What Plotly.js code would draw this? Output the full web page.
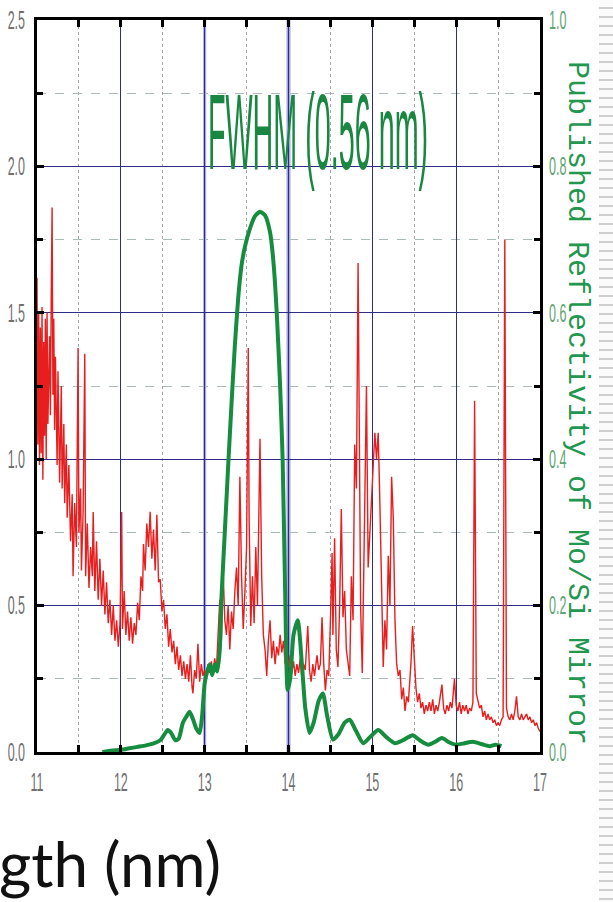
<!DOCTYPE html>
<html>
<head>
<meta charset="utf-8">
<script src="https://cdn.plot.ly/plotly-3.0.1.min.js"></script>
<style>
  html, body { margin: 0; padding: 0; background: #fff; }
  #wrap { position: relative; width: 613px; height: 902px; overflow: hidden; }
  #stripes { position: absolute; right: 0; top: 0; width: 14px; height: 902px;
    background: repeating-linear-gradient(to bottom, #fbfbfb 0px, #fbfbfb 7px, #cfcfcf 7px, #cfcfcf 9px); }
  #chart { position: absolute; left: 0; top: 0; width: 613px; height: 902px; }
</style>
</head>
<body>
<div id="wrap"><div id="stripes"></div><div id="chart"></div></div>
<script>
// Measured spectrum (left axis)
const redX = [11.00,11.01,11.02,11.03,11.04,11.05,11.06,11.07,11.08,11.09,11.10,11.11,11.12,11.13,11.15,11.16,11.17,11.18,11.19,11.20,11.21,11.22,11.24,11.25,11.27,11.29,11.30,11.32,11.33,11.35,11.36,11.38,11.40,11.42,11.43,11.45,11.47,11.49,11.50,11.52,11.53,11.55,11.57,11.58,11.60,11.62,11.64,11.66,11.67,11.69,11.71,11.73,11.75,11.77,11.79,11.81,11.83,11.85,11.87,11.89,11.91,11.93,11.95,11.97,11.99,12.01,12.02,12.04,12.06,12.08,12.10,12.12,12.14,12.16,12.18,12.20,12.22,12.24,12.26,12.27,12.29,12.31,12.33,12.35,12.37,12.39,12.41,12.43,12.45,12.47,12.49,12.51,12.53,12.55,12.57,12.59,12.61,12.63,12.65,12.67,12.69,12.71,12.73,12.75,12.77,12.79,12.81,12.83,12.85,12.86,12.88,12.90,12.92,12.94,12.96,12.98,13.00,13.02,13.04,13.06,13.08,13.10,13.12,13.14,13.16,13.18,13.20,13.22,13.24,13.26,13.28,13.30,13.32,13.34,13.36,13.38,13.40,13.42,13.44,13.46,13.48,13.50,13.52,13.53,13.55,13.57,13.59,13.61,13.63,13.66,13.68,13.70,13.72,13.74,13.76,13.78,13.80,13.82,13.84,13.86,13.88,13.90,13.92,13.94,13.96,13.98,14.00,14.02,14.04,14.06,14.08,14.10,14.12,14.14,14.16,14.18,14.20,14.23,14.25,14.27,14.29,14.31,14.34,14.36,14.38,14.40,14.42,14.44,14.46,14.48,14.50,14.52,14.53,14.55,14.57,14.59,14.61,14.63,14.65,14.67,14.69,14.71,14.73,14.75,14.77,14.79,14.81,14.83,14.85,14.86,14.88,14.90,14.93,14.95,14.97,14.99,15.01,15.03,15.05,15.07,15.09,15.11,15.13,15.15,15.17,15.19,15.21,15.23,15.25,15.27,15.29,15.31,15.33,15.35,15.37,15.39,15.41,15.43,15.46,15.48,15.50,15.52,15.54,15.56,15.58,15.60,15.62,15.64,15.66,15.68,15.70,15.72,15.74,15.76,15.78,15.80,15.83,15.85,15.87,15.89,15.91,15.93,15.95,15.98,16.00,16.02,16.04,16.06,16.08,16.10,16.12,16.14,16.16,16.18,16.20,16.22,16.24,16.26,16.28,16.30,16.32,16.34,16.36,16.38,16.40,16.42,16.44,16.46,16.48,16.50,16.52,16.54,16.56,16.58,16.60,16.62,16.64,16.66,16.68,16.70,16.72,16.74,16.76,16.78,16.80,16.82,16.84,16.86,16.88,16.90,16.92,16.94,16.96,16.98,17.00];
const redY = [1.62,1.05,1.50,0.98,1.45,1.02,1.52,0.93,1.40,1.08,1.48,1.00,1.50,1.12,1.42,1.15,1.55,1.86,1.22,1.48,1.10,1.35,0.98,1.30,0.92,1.25,0.90,1.12,0.85,1.05,0.80,0.98,0.72,0.88,0.60,0.85,0.70,1.38,0.75,0.90,0.62,0.82,1.36,0.60,0.78,0.56,0.70,0.60,0.82,0.55,0.72,0.52,0.66,0.50,0.62,0.47,0.58,0.44,0.52,0.40,0.50,0.38,0.45,0.36,0.44,0.82,0.42,0.55,0.40,0.48,0.38,0.46,0.37,0.44,0.40,0.51,0.45,0.60,0.55,0.71,0.62,0.78,0.70,0.82,0.66,0.76,0.62,0.81,0.58,0.59,0.48,0.52,0.42,0.47,0.36,0.42,0.34,0.38,0.30,0.36,0.28,0.33,0.26,0.31,0.25,0.30,0.24,0.33,0.22,0.20,0.28,0.25,0.37,0.24,0.30,0.26,0.28,0.25,0.30,0.27,0.31,0.27,0.32,0.28,0.40,0.52,0.38,0.62,0.45,0.40,0.50,0.35,0.48,0.42,0.55,0.63,0.50,0.94,0.60,0.42,0.55,0.70,1.38,0.80,0.43,0.60,0.44,0.70,0.50,1.07,0.60,0.40,0.35,0.26,0.38,0.45,0.32,0.38,0.30,0.36,0.33,0.40,0.34,0.38,0.30,0.35,0.29,0.33,0.27,0.31,0.26,0.30,0.27,0.32,0.25,0.30,0.28,0.43,0.28,0.24,0.30,0.26,0.33,0.28,0.30,0.46,0.30,0.21,0.28,0.26,0.45,0.68,0.40,0.73,0.35,0.29,0.50,0.83,0.46,0.55,0.35,0.30,0.26,0.60,0.45,1.05,0.90,1.67,0.80,0.50,0.27,0.70,1.25,0.63,0.75,0.90,1.02,1.09,1.00,1.09,0.85,0.55,0.29,0.45,0.35,0.67,0.50,0.94,0.80,0.45,0.30,0.26,0.28,0.18,0.22,0.14,0.19,0.17,0.30,0.43,0.33,0.22,0.17,0.20,0.15,0.17,0.13,0.16,0.14,0.17,0.14,0.18,0.13,0.16,0.14,0.17,0.23,0.15,0.13,0.16,0.14,0.17,0.15,0.25,0.16,0.14,0.17,0.13,0.16,0.14,0.16,0.13,0.15,0.14,0.17,1.20,0.20,0.17,0.15,0.16,0.12,0.14,0.11,0.13,0.11,0.12,0.10,0.11,0.09,0.10,0.09,0.11,0.12,1.75,0.15,0.12,0.11,0.13,0.11,0.14,0.19,0.12,0.11,0.13,0.11,0.12,0.13,0.11,0.12,0.10,0.11,0.09,0.10,0.08,0.07];

// Published reflectivity of Mo/Si mirror (right axis)
const greenX = [11.78,11.90,12.00,12.10,12.20,12.30,12.40,12.47,12.52,12.56,12.60,12.65,12.69,12.74,12.78,12.82,12.86,12.90,12.94,12.97,13.00,13.03,13.06,13.09,13.12,13.15,13.18,13.20,13.24,13.28,13.32,13.36,13.40,13.44,13.48,13.54,13.60,13.66,13.72,13.78,13.82,13.86,13.90,13.93,13.96,13.99,14.02,14.06,14.11,14.16,14.20,14.25,14.30,14.36,14.41,14.46,14.53,14.60,14.67,14.73,14.80,14.89,14.97,15.07,15.17,15.27,15.38,15.48,15.58,15.67,15.75,15.83,15.92,16.00,16.10,16.20,16.30,16.40,16.47,16.54];
const greenY = [0.000,0.002,0.003,0.005,0.007,0.009,0.012,0.016,0.024,0.030,0.026,0.016,0.018,0.040,0.048,0.055,0.045,0.032,0.026,0.050,0.094,0.110,0.120,0.105,0.120,0.110,0.140,0.210,0.300,0.390,0.475,0.555,0.620,0.665,0.690,0.715,0.732,0.738,0.733,0.710,0.670,0.600,0.500,0.400,0.220,0.085,0.100,0.160,0.180,0.120,0.060,0.026,0.040,0.070,0.080,0.050,0.017,0.025,0.040,0.044,0.030,0.012,0.020,0.030,0.020,0.012,0.017,0.023,0.015,0.010,0.014,0.019,0.013,0.010,0.012,0.014,0.011,0.008,0.010,0.008];

const xTickVals = [11,12,13,14,15,16,17];
const leftTickVals = [0,0.5,1.0,1.5,2.0,2.5];
const rightTickVals = [0,0.2,0.4,0.6,0.8,1.0];

const labelFont = {family: '"Liberation Sans", Arial, sans-serif', size: 25, color: '#707070'};

const traces = [
  {x: redX, y: redY, type: 'scatter', mode: 'lines', yaxis: 'y',
   line: {color: 'rgb(232,30,30)', width: 1.4}, hoverinfo: 'skip'},
  {x: greenX, y: greenY, type: 'scatter', mode: 'lines', yaxis: 'y2',
   line: {color: 'rgb(22,140,62)', width: 4, shape: 'spline', smoothing: 0.6}, hoverinfo: 'skip'}
];

const layout = {
  width: 613, height: 902,
  margin: {l: 37, r: 73, t: 20, b: 150, pad: 0},
  paper_bgcolor: 'rgba(0,0,0,0)',
  plot_bgcolor: '#ffffff',
  showlegend: false,
  xaxis: {
    range: [11, 17], tickvals: xTickVals, ticktext: xTickVals.map(String),
    showline: true, linecolor: '#000', linewidth: 3, mirror: 'allticks',
    ticks: 'inside', ticklen: 7, tickwidth: 3, tickcolor: '#000',
    showgrid: true, gridcolor: 'rgb(45,45,135)', gridwidth: 1, zeroline: false,
    tickfont: labelFont, ticklabelstandoff: 6,
    minor: {dtick: 0.5, tick0: 11, ticks: 'inside', ticklen: 6, tickwidth: 3, tickcolor: '#000',
            showgrid: true, gridcolor: 'rgb(165,165,165)', griddash: 'dot', gridwidth: 1}
  },
  yaxis: {
    range: [0, 2.5], tickvals: leftTickVals, tickformat: '.1f',
    showline: true, linecolor: '#000', linewidth: 3, mirror: 'allticks',
    ticks: 'inside', ticklen: 7, tickwidth: 3, tickcolor: '#000',
    showgrid: true, gridcolor: 'rgb(45,45,135)', gridwidth: 1, zeroline: false,
    tickfont: labelFont, ticklabelstandoff: 4,
    minor: {dtick: 0.25, tick0: 0, ticks: 'inside', ticklen: 6, tickwidth: 3, tickcolor: '#000',
            showgrid: true, gridcolor: 'rgb(170,185,185)', griddash: 'dash', gridwidth: 1}
  },
  yaxis2: {
    overlaying: 'y', side: 'right', range: [0, 1], tickvals: rightTickVals, tickformat: '.1f',
    showgrid: false, zeroline: false, showline: false, ticks: '',
    tickfont: Object.assign({}, labelFont, {color: 'rgb(95,165,115)'}), ticklabelstandoff: 8
  },
  shapes: [
    {type: 'line', xref: 'x', yref: 'paper', x0: 13, x1: 13, y0: 0, y1: 1, layer: 'between',
     line: {color: 'rgba(160,160,220,0.95)', width: 3}},
    {type: 'line', xref: 'x', yref: 'paper', x0: 14, x1: 14, y0: 0, y1: 1, layer: 'between',
     line: {color: 'rgba(160,160,220,0.95)', width: 4}}
  ],
  annotations: [
    {text: 'FWHM (0.56 nm)', xref: 'x', yref: 'y', x: 14.35, y: 2.12, showarrow: false,
     xanchor: 'center', yanchor: 'middle',
     font: {family: '"Liberation Sans", Arial, sans-serif', size: 108, color: 'rgb(25,135,65)'}},
    {text: 'Published Reflectivity of Mo/Si Mirror', xref: 'paper', yref: 'paper',
     x: 1.0736, y: 0.4768, textangle: 90, showarrow: false, xanchor: 'center', yanchor: 'middle',
     font: {family: '"Liberation Mono", "DejaVu Sans Mono", monospace', size: 30, color: 'rgb(35,150,80)'}},
    {text: 'gth (nm)', xref: 'paper', yref: 'paper', x: -0.08, y: -0.205, showarrow: false,
     xanchor: 'left', yanchor: 'bottom',
     font: {family: 'Lato, "Open Sans", sans-serif', size: 62, color: '#111'}}
  ]
};

function squeeze(t, s, mode) {
  const bb = t.getBBox();
  const cx = mode === 'right' ? bb.x + bb.width : (mode === 'left' ? bb.x : bb.x + bb.width / 2);
  const prev = t.getAttribute('transform') || '';
  t.setAttribute('transform', prev + ' translate(' + cx + ',0) scale(' + s + ',1) translate(' + (-cx) + ',0)');
}

Plotly.newPlot('chart', traces, layout, {staticPlot: true, displayModeBar: false}).then(function () {
  document.querySelectorAll('.annotation-text').forEach(function (t) {
    if (t.textContent.indexOf('FWHM') === 0) {
      const w = t.getBBox().width;
      const s = 220 / w;
      t.style.transformBox = 'fill-box';
      t.style.transformOrigin = 'center';
      t.style.transform = 'scaleX(' + s.toFixed(3) + ')';
    }
  });
  document.querySelectorAll('.xtick text').forEach(function (t) { squeeze(t, 0.5, 'center'); });
  document.querySelectorAll('.ytick text').forEach(function (t) { squeeze(t, 0.5, 'right'); });
  document.querySelectorAll('.y2tick text').forEach(function (t) { squeeze(t, 0.5, 'left'); });
});
</script>
</body>
</html>
